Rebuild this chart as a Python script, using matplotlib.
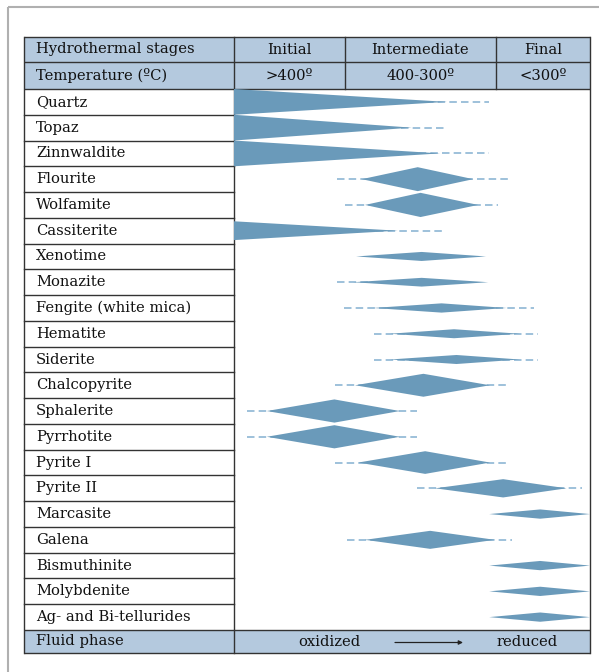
import matplotlib
matplotlib.use("Agg")
import matplotlib.pyplot as plt
import numpy as np
from matplotlib.patches import Polygon, Rectangle

# ---- data -------------------------------------------------------------
minerals = ["Quartz", "Topaz", "Zinnwaldite", "Flourite", "Wolfamite", "Cassiterite",
            "Xenotime", "Monazite", "Fengite (white mica)", "Hematite", "Siderite",
            "Chalcopyrite", "Sphalerite", "Pyrrhotite", "Pyrite I", "Pyrite II",
            "Marcasite", "Galena", "Bismuthinite", "Molybdenite", "Ag- and Bi-tellurides"]
# shape type: "tri" = decreasing wedge, "dia" = diamond
shape = ["tri", "tri", "tri", "dia", "dia", "tri",
         "dia", "dia", "dia", "dia", "dia",
         "dia", "dia", "dia", "dia", "dia",
         "dia", "dia", "dia", "dia", "dia"]
# relative position across the stage scale (0 = start of Initial, 100 = end of Final)
start = [0, 0, 0, 35.9, 36.8, 0,
         34.3, 33.5, 39.1, 43.8, 43.8,
         34.0, 9.2, 9.2, 34.9, 56.5,
         71.7, 36.8, 71.7, 71.7, 71.7]
peak = [0, 0, 0, 51.6, 52.4, 0,
        52.7, 52.7, 58.3, 61.8, 62.5,
        53.2, 28.2, 28.2, 53.7, 75.6,
        86.0, 55.1, 86.0, 86.0, 86.0]
end = [59.8, 49.9, 57.9, 67.2, 68.6, 46.0,
       70.8, 71.4, 76.6, 80.3, 80.3,
       71.9, 46.6, 46.6, 71.9, 93.4,
       100, 73.3, 100, 100, 100]
width = [1.0, 1.0, 1.0, 0.93, 0.94, 0.73,
         0.35, 0.34, 0.36, 0.35, 0.35,
         0.89, 0.90, 0.90, 0.88, 0.71,
         0.36, 0.70, 0.36, 0.36, 0.36]
dash_lo = [54.0, 47.0, 48.5, 29.0, 31.2, 40.0,
           np.nan, 29.0, 30.9, 39.3, 39.3,
           28.4, 3.6, 3.6, 28.4, 51.3,
           np.nan, 31.8, np.nan, np.nan, np.nan]
dash_hi = [71.6, 59.3, 71.6, 77.3, 74.2, 58.8,
           np.nan, 40.0, 84.3, 85.5, 85.5,
           76.9, 51.5, 51.5, 76.9, 97.7,
           np.nan, 78.0, np.nan, np.nan, np.nan]

stages = ["Initial", "Intermediate", "Final"]
temps = [">400º", "400-300º", "<300º"]
stage_edges = [0, 31.2, 73.6, 100]

# ---- layout (pixels) ----------------------------------------------------
W, H = 599, 672
TL, TR = 24, 590          # table left/right
LC = 234                  # label column edge
H1, H2, H3 = 37, 62, 89   # header rows
BODY_END, FOOT_END = 630, 653

FILL = "#6a9aba"
DASH = "#8db6d4"
HEAD = "#b4c9de"
EDGE = "#333333"
FONT = "DejaVu Serif"
FS = 10.6

fig = plt.figure(figsize=(W / 100, H / 100), dpi=100)
fig.patch.set_facecolor("white")

# frame / table axes in pixel units
ax0 = fig.add_axes([0, 0, 1, 1])
ax0.set_xlim(0, W)
ax0.set_ylim(H, 0)
ax0.axis("off")

# light outer frame
ax0.add_patch(Rectangle((8, 7), W, H, fill=False, ec="#b0b0b0", lw=1.5))

# header and footer fills
ax0.add_patch(Rectangle((TL, H1), TR - TL, H3 - H1, fc=HEAD, ec="none"))
ax0.add_patch(Rectangle((TL, BODY_END), TR - TL, FOOT_END - BODY_END, fc=HEAD, ec="none"))

n = len(minerals)
row_h = (BODY_END - H3) / n
lw = 1.0

def stage_px(v):
    return LC + (TR - LC) * v / 100.0

# horizontal rules
for y in [H1, H2, H3, BODY_END, FOOT_END]:
    ax0.plot([TL, TR], [y, y], color=EDGE, lw=lw, solid_capstyle="butt")
for i in range(1, n):
    y = H3 + i * row_h
    ax0.plot([TL, LC], [y, y], color=EDGE, lw=lw)
# vertical rules
for x in [TL, LC, TR]:
    ax0.plot([x, x], [H1, FOOT_END], color=EDGE, lw=lw)
for v in stage_edges[1:-1]:
    x = stage_px(v)
    ax0.plot([x, x], [H1, H3], color=EDGE, lw=lw)

# header text
tkw = dict(family=FONT, fontsize=FS, color="#111111", va="center")
PAD = 12
ax0.text(TL + PAD, (H1 + H2) / 2, "Hydrothermal stages", ha="left", **tkw)
ax0.text(TL + PAD, (H2 + H3) / 2, "Temperature (ºC)", ha="left", **tkw)
for k in range(3):
    xc = (stage_px(stage_edges[k]) + stage_px(stage_edges[k + 1])) / 2
    ax0.text(xc, (H1 + H2) / 2, stages[k], ha="center", **tkw)
    ax0.text(xc, (H2 + H3) / 2, temps[k], ha="center", **tkw)

for i, m in enumerate(minerals):
    ax0.text(TL + PAD, H3 + (i + 0.5) * row_h, m, ha="left", **tkw)

# footer
fy = (BODY_END + FOOT_END) / 2
ax0.text(TL + PAD, fy, "Fluid phase", ha="left", **tkw)
ax0.text(329, fy, "oxidized", ha="center", **tkw)
ax0.text(527, fy, "reduced", ha="center", **tkw)
ax0.annotate("", xy=(463, fy + 1), xytext=(395, fy + 1),
             arrowprops=dict(arrowstyle="-|>", color="#222222", lw=0.9,
                             mutation_scale=6, shrinkA=0, shrinkB=0))

# ---- mineral paragenesis body ------------------------------------------
ax = fig.add_axes([LC / W, 1 - BODY_END / H, (TR - LC) / W, (BODY_END - H3) / H])
ax.set_xlim(0, 100)
ax.set_ylim(n, 0)
ax.axis("off")
ax.patch.set_alpha(0)

for i in range(n):
    yc = i + 0.5
    hw = width[i] / 2
    if not np.isnan(dash_lo[i]):
        ax.plot([dash_lo[i], dash_hi[i]], [yc, yc], color=DASH, lw=1.2,
                dashes=(4.5, 2.5), zorder=1)
    if shape[i] == "tri":
        pts = [(start[i], yc - hw), (end[i], yc), (start[i], yc + hw)]
    else:
        pts = [(start[i], yc), (peak[i], yc - hw), (end[i], yc), (peak[i], yc + hw)]
    ax.add_patch(Polygon(pts, closed=True, fc=FILL, ec="none", zorder=2))

fig.savefig("out.png", dpi=100, facecolor="white")
